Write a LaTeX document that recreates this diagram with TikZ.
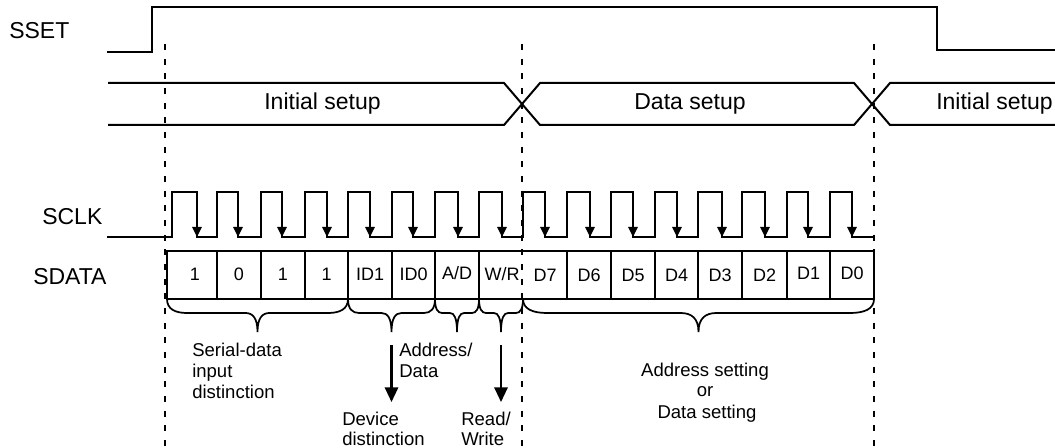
\documentclass[tikz,border=0pt]{standalone}
\usepackage{fontspec}
\setmainfont{Liberation Sans}
\usetikzlibrary{arrows.meta}
\begin{document}
\begin{tikzpicture}[x=0.75pt,y=-0.75pt,
  sig/.style={line width=1.5pt, line join=miter},
  cellbox/.style={line width=1.1pt},
  guide/.style={line width=1.2pt, dash pattern=on 4.5pt off 6.5pt},
  biglabel/.style={font=\fontsize{17.25}{20}\selectfont, inner sep=0pt},
  celltext/.style={font=\fontsize{13.5}{16}\selectfont, inner sep=0pt, anchor=base},
  small/.style={font=\fontsize{13.9}{16}\selectfont, inner sep=0pt},
  clkarrow/.style={line width=1.5pt, -{Triangle[width=7pt,length=7.5pt]}},
  bigarrow/.style={line width=1.6pt, -{Triangle[width=10pt,length=11pt]}},
  bracepath/.style={line width=1.3pt}
]
\useasboundingbox (0,0) rectangle (1055,448);

% signal names
\node[biglabel, anchor=base west] (sset) at (9,39) {SSET};
\node[biglabel, anchor=base west] (sclk) at (42,225) {SCLK};
\node[biglabel, anchor=base west] (sdata) at (33,285) {SDATA};

% SSET waveform
\coordinate (s0) at (107,52);
\coordinate (s1) at (152,52);
\coordinate (s2) at (152,7);
\coordinate (s3) at (937,7);
\coordinate (s4) at (937,50);
\coordinate (s5) at (1055,50);
\draw[sig] (s0) -- (s1) -- (s2) -- (s3) -- (s4) -- (s5);

% bus
\draw[sig] (108,83) -- (504,83) -- (540,125) -- (854,125) -- (890,83) -- (1055,83);
\draw[sig] (108,125) -- (504,125) -- (540,83) -- (854,83) -- (890,125) -- (1055,125);
\node[biglabel, anchor=base] (bus1) at (322.5,110) {Initial setup};
\node[biglabel, anchor=base] (bus2) at (690,110) {Data setup};
\node[biglabel, anchor=base west] (bus3) at (936,110) {Initial setup};

% SCLK waveform
\draw[sig] (107,237) -- (172,237) -- (172,192) -- (197,192) -- (197,237)
  -- (217,237) -- (217,192) -- (238,192) -- (238,237)
  -- (261,237) -- (261,192) -- (282,192) -- (282,237)
  -- (305,237) -- (305,192) -- (327,192) -- (327,237)
  -- (348,237) -- (348,192) -- (370,192) -- (370,237)
  -- (392,237) -- (392,192) -- (413,192) -- (413,237)
  -- (435,237) -- (435,192) -- (458,192) -- (458,237)
  -- (479,237) -- (479,192) -- (502,192) -- (502,237)
  -- (523,237) -- (523,192) -- (545,192) -- (545,237)
  -- (567,237) -- (567,192) -- (590,192) -- (590,237)
  -- (611,237) -- (611,192) -- (633,192) -- (633,237)
  -- (655,237) -- (655,192) -- (677,192) -- (677,237)
  -- (698,237) -- (698,192) -- (722,192) -- (722,237)
  -- (742,237) -- (742,192) -- (765,192) -- (765,237)
  -- (787,237) -- (787,192) -- (808,192) -- (808,237)
  -- (830,237) -- (830,192) -- (852,192) -- (852,237)
  -- (874,237);
\foreach \f in {197,238,282,327,370,413,458,502,545,590,633,677,722,765,808,852}
  \draw[clkarrow] (\f,192) -- (\f,237);

% SDATA cells
\draw[cellbox] (167,251) -- (874,251) -- (874,299) -- (167,299) -- cycle;
\foreach \b in {217,261,305,348,392,435,479,567,611,655,698,742,787,830}
  \draw[cellbox] (\b,251) -- (\b,299);
\node[celltext] (c1) at (195,281) {1};
\node[celltext] (c2) at (239,281) {0};
\node[celltext] (c3) at (283,281) {1};
\node[celltext] (c4) at (326.5,281) {1};
\node[celltext] (c5) at (370,281) {ID1};
\node[celltext] (c6) at (413.5,281) {ID0};
\node[celltext] (c7) at (457,280) {A/D};
\node[celltext] (c8) at (502,281) {W/R};
\node[celltext] (c9) at (545,282) {D7};
\node[celltext] (c10) at (589,282) {D6};
\node[celltext] (c11) at (633,282) {D5};
\node[celltext] (c12) at (676.5,282) {D4};
\node[celltext] (c13) at (720,282) {D3};
\node[celltext] (c14) at (764.5,282) {D2};
\node[celltext] (c15) at (808.5,280) {D1};
\node[celltext] (c16) at (852,280) {D0};

% dashed guides
\coordinate (g1t) at (165,44); \coordinate (g1b) at (165,448);
\coordinate (g2t) at (522,44); \coordinate (g2b) at (522,448);
\coordinate (g3t) at (874,44); \coordinate (g3b) at (874,448);
\draw[guide] (g1t) -- (g1b);
\draw[guide] (g2t) -- (g2b);
\draw[guide] (g3t) -- (g3b);

% braces
\foreach \xa/\xb/\e/\t [count=\i] in {167/348/20/12, 348/435/11/10, 435/479/7/7, 479/523/7/7, 523/874/24/18} {
  \pgfmathsetmacro\xm{(\xa+\xb)/2}
  \draw[bracepath] (\xa,299) .. controls (\xa,309) and (\xa+0.4*\e,313) .. (\xa+\e,313)
    -- (\xm-\t,313) .. controls (\xm-0.4*\t,313) and (\xm,318) .. (\xm,332)
    .. controls (\xm,318) and (\xm+0.4*\t,313) .. (\xm+\t,313)
    -- (\xb-\e,313) .. controls (\xb-0.4*\e,313) and (\xb,309) .. (\xb,299);
  \coordinate (tip\i) at (\xm,332);
}

% arrows
\draw[bigarrow] ([yshift=-10pt]tip2) -- ([yshift=-52.5pt]tip2);
\draw[bigarrow] ([yshift=-10pt]tip4) -- ([yshift=-52.5pt]tip4);

% annotations
\node[small, anchor=base west] (sd1) at (192,357) {Serial-data};
\node[small, anchor=base west] (sd2) at (192,378) {input};
\node[small, anchor=base west] (sd3) at (192,398) {distinction};
\node[small, anchor=base west] (ad1) at (399,357) {Address/};
\node[small, anchor=base west] (ad2) at (399,378) {Data};
\node[small, anchor=base west] (dv1) at (342,425) {Device};
\node[small, anchor=base west] (dv2) at (342,445) {distinction};
\node[small, anchor=base west] (rw1) at (461,425) {Read/};
\node[small, anchor=base west] (rw2) at (461,445) {Write};
\node[small, anchor=base] (as1) at (705,377) {Address setting};
\node[small, anchor=base] (as2) at (705,397) {or};
\node[small, anchor=base] (as3) at (707,418) {Data setting};
\end{tikzpicture}
\end{document}
